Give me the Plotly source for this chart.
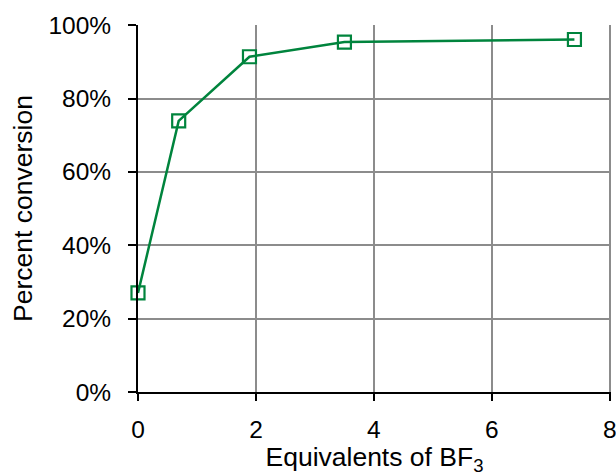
import plotly.graph_objects as go

equiv_bf3 = [0, 0.69, 1.89, 3.5, 7.4]
conversion = [0.27, 0.739, 0.914, 0.954, 0.961]

green = "#00843D"
grid = "#8c8c8c"
font = "Liberation Sans, Arial, sans-serif"
fs = 24.5
fst = 26.5

fig = go.Figure()
fig.add_trace(go.Scatter(
    x=equiv_bf3, y=conversion, mode="lines+markers",
    line=dict(color=green, width=2.5),
    marker=dict(symbol="square-open", size=13, color=green, line=dict(width=2.2, color=green)),
    cliponaxis=False, showlegend=False,
))

fig.update_layout(
    width=616, height=476,
    margin=dict(l=138, r=5, t=25, b=84, autoexpand=False),
    plot_bgcolor="white", paper_bgcolor="white",
    font=dict(family=font, size=fs, color="black"),
    xaxis=dict(
        range=[0, 8.02], tickvals=[0, 2, 4, 6, 8],
        showgrid=True, gridcolor=grid, gridwidth=2,
        showline=True, linecolor="black", linewidth=2,
        ticks="outside", ticklen=7, tickwidth=2, tickcolor="black",
        zeroline=False, automargin=False, ticklabelstandoff=8,
        ticklabeloverflow="allow",
        tickfont=dict(family=font, size=fs, color="black"),
        title=dict(text="Equivalents of BF<sub>3</sub>", standoff=14,
                   font=dict(family=font, size=fst, color="black")),
    ),
    yaxis=dict(
        range=[0, 1.0005], tickvals=[0, 0.2, 0.4, 0.6, 0.8, 1.0], tickformat=".0%",
        showgrid=True, gridcolor=grid, gridwidth=2,
        showline=True, linecolor="black", linewidth=2,
        ticks="outside", ticklen=8, tickwidth=2, tickcolor="black",
        zeroline=False, automargin=False, ticklabelstandoff=12,
        tickfont=dict(family=font, size=fs, color="black"),
        title=dict(text="Percent conversion", standoff=8,
                   font=dict(family=font, size=fst, color="black")),
    ),
)

fig.write_html(
    "out.html",
    config={"displayModeBar": False},
    post_script="document.body.style.margin='0px';document.body.style.overflow='hidden';",
)
